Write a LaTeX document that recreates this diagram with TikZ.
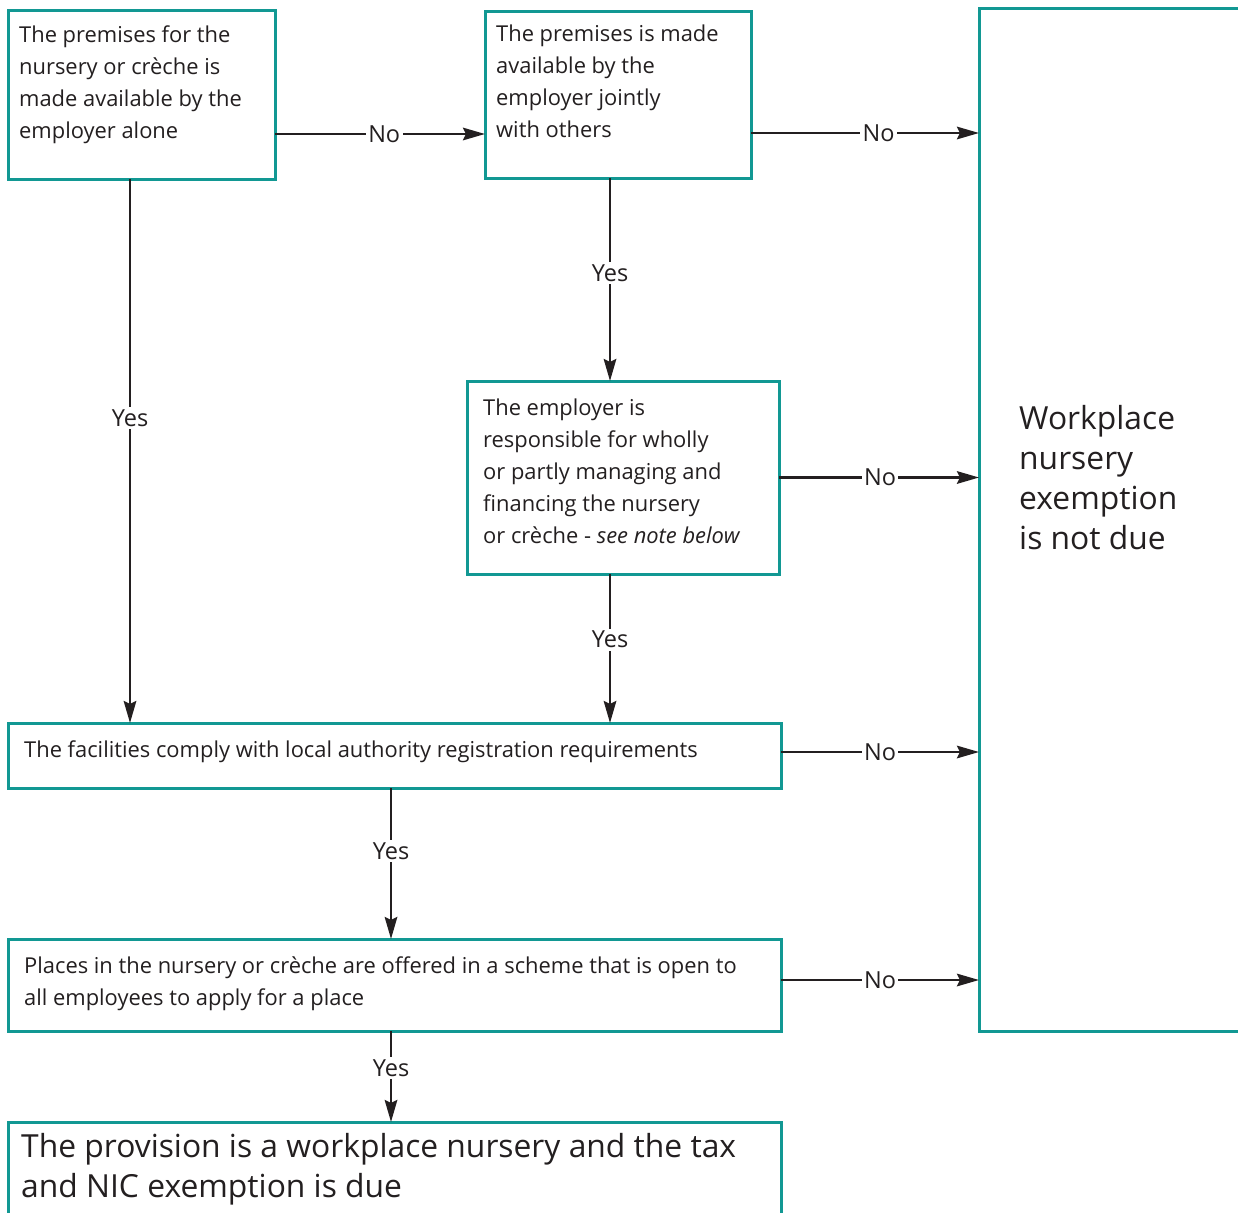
\documentclass[tikz,border=0pt]{standalone}
\usepackage{fontspec}
\setmainfont{Open Sans}
\usetikzlibrary{arrows.meta}
\definecolor{teal1}{RGB}{18,152,147}
\definecolor{ink}{RGB}{35,31,32}
\tikzset{
  box/.style={draw=teal1, line width=3pt, fill=white, inner sep=0pt, outer sep=0pt},
  txt/.style={anchor=north west, inner sep=0pt, align=left, text=ink, font=\fontsize{21.9}{32}\selectfont},
  bigtxt/.style={anchor=north west, inner sep=0pt, align=left, text=ink, font=\fontsize{31.8}{40}\selectfont},
  arr/.style={draw=ink, line width=2.7pt, -{Stealth[length=22pt,width=12.5pt,inset=3pt]}},
  lab/.style={fill=white, inner sep=2.5pt, text=ink, font=\fontsize{23.5}{26}\selectfont}
}
\begin{document}
\begin{tikzpicture}[x=1pt,y=-1pt]
\useasboundingbox (0,0) rectangle (1238,1212);
\clip (0,0) rectangle (1238,1212);
\fill[white] (0,0) rectangle (1238,1212);
% boxes
\node[box, minimum width=267pt, minimum height=168pt] (A) at (141.5,95) {};
\node[box, minimum width=266pt, minimum height=166pt] (B) at (618,95) {};
\node[box, minimum width=312pt, minimum height=193pt] (C) at (623,477.5) {};
\node[box, minimum width=773pt, minimum height=65pt] (D) at (394.5,755.5) {};
\node[box, minimum width=773pt, minimum height=92pt] (E) at (394.5,985) {};
\node[box, minimum width=773pt, minimum height=160pt] (F) at (394.5,1202) {};
\node[box, minimum width=320pt, minimum height=1022pt] (G) at (1139,520) {};
% texts
\node[txt] (tA) at (19,25.5) {The premises for the\\nursery or crèche is\\made available by the\\employer alone};
\node[txt] (tB) at (496,24.5) {The premises is made\\available by the\\employer jointly\\with others};
\node[txt] (tC) at (483,398.5) {The employer is\\responsible for wholly\\or partly managing and\\financing the nursery\\or crèche - \textit{see note below}};
\node[txt] (tD) at (24,740.5) {The facilities comply with local authority registration requirements};
\node[txt] (tE) at (24,956.5) {Places in the nursery or crèche are offered in a scheme that is open to\\all employees to apply for a place};
\node[bigtxt] (tF) at (21,1133) {The provision is a workplace nursery and the tax\\and NIC exemption is due};
\node[bigtxt] (tG) at (1019,405) {Workplace\\nursery\\exemption\\is not due};
% connectors
\draw[arr] ([yshift=-39pt]A.east) -- node[lab, pos=0.52] {No} ([yshift=-39pt]A.east -| B.west);
\draw[arr] ([yshift=-38pt]B.east) -- node[lab, pos=0.56] {No} ([yshift=-38pt]B.east -| G.west);
\draw[arr] ([xshift=-8pt]B.south) -- node[lab, pos=0.47] {Yes} ([xshift=-8pt]B.south |- C.north);
\draw[arr] ([xshift=-11.5pt]A.south) -- node[lab, pos=0.44] {Yes} ([xshift=-11.5pt]A.south |- D.north);
\draw[arr] (C.east) -- node[lab, pos=0.505] {No} (C.east -| G.west);
\draw[arr] ([xshift=-13pt]C.south) -- node[lab, pos=0.44] {Yes} ([xshift=-13pt]C.south |- D.north);
\draw[arr] ([yshift=3.5pt]D.east) -- node[lab, pos=0.5] {No} ([yshift=3.5pt]D.east -| G.west);
\draw[arr] ([xshift=-3.5pt]D.south) -- node[lab, pos=0.42] {Yes} ([xshift=-3.5pt]D.south |- E.north);
\draw[arr] ([yshift=5pt]E.east) -- node[lab, pos=0.5] {No} ([yshift=5pt]E.east -| G.west);
\draw[arr] ([xshift=-3.5pt]E.south) -- node[lab, pos=0.41] {Yes} ([xshift=-3.5pt]E.south |- F.north);
\end{tikzpicture}
\end{document}
